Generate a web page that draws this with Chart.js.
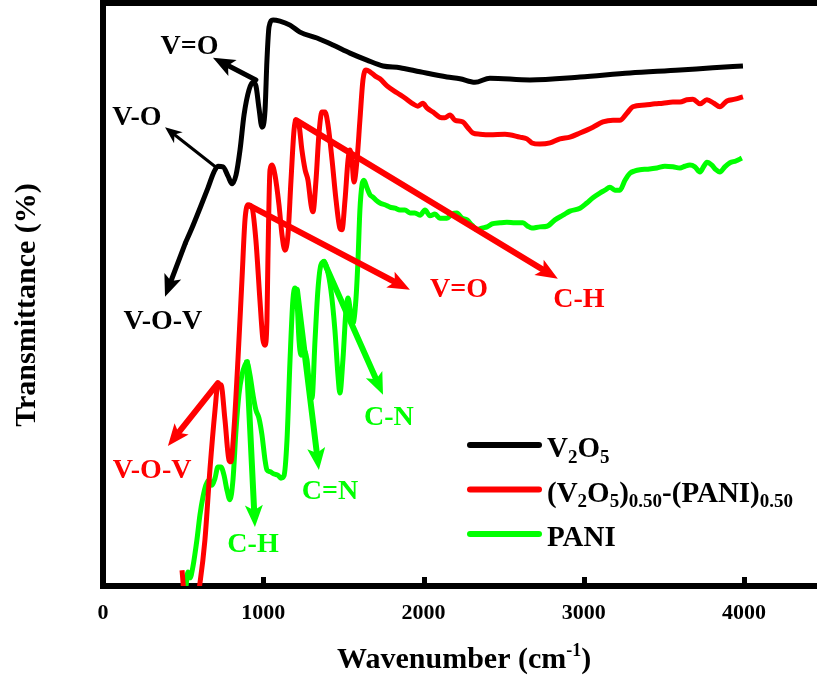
<!DOCTYPE html>
<html>
<head>
<meta charset="utf-8">
<script src="https://cdn.jsdelivr.net/npm/chart.js@4.4.0/dist/chart.umd.min.js"></script>
<style>
  html, body { margin: 0; padding: 0; background: #fff; overflow: hidden; }
</style>
</head>
<body>
<canvas id="ftir" width="817" height="679"></canvas>
<script>
// V2O5
const v2o5Wn = [512, 555, 605, 655, 692, 717, 749, 780, 805, 830, 855, 880, 911, 936, 954, 973, 992, 1011, 1023, 1036, 1061, 1104, 1167, 1229, 1335, 1435, 1541, 1647, 1747, 1853, 1978, 2146, 2227, 2321, 2414, 2664, 2976, 3288, 3600, 3805, 3993];
const v2o5T = [58.7, 61.4, 64.8, 68.3, 71.0, 72.0, 71.9, 70.3, 69.0, 70.5, 74.8, 80.8, 85.1, 86.4, 85.8, 82.0, 78.7, 81.6, 90.2, 95.9, 97.1, 96.9, 96.2, 95.0, 94.0, 92.8, 91.4, 90.2, 89.2, 88.9, 88.2, 87.3, 87.0, 86.4, 87.1, 86.8, 87.3, 88.0, 88.5, 88.9, 89.2];

// (V2O5)0.50-(PANI)0.50
const compWn = [493, 512, 586, 605, 636, 667, 699, 717, 736, 761, 786, 798, 817, 842, 867, 886, 905, 929, 954, 979, 998, 1011, 1023, 1029, 1042, 1054, 1073, 1098, 1117, 1135, 1154, 1173, 1192, 1204, 1223, 1241, 1261, 1279, 1298, 1310, 1329, 1347, 1366, 1385, 1404, 1429, 1454, 1478, 1491, 1510, 1529, 1541, 1553, 1566, 1585, 1603, 1622, 1641, 1666, 1697, 1728, 1772, 1834, 1884, 1934, 1965, 1996, 2021, 2059, 2102, 2133, 2165, 2196, 2246, 2277, 2308, 2352, 2414, 2508, 2601, 2645, 2676, 2726, 2789, 2851, 2913, 2976, 3057, 3119, 3182, 3225, 3269, 3306, 3381, 3444, 3493, 3556, 3600, 3643, 3681, 3725, 3768, 3812, 3849, 3893, 3943, 3993];
const compT = [2.7, -2.4, -2.4, 0.5, 7.9, 19.9, 30.2, 34.5, 34.5, 28.5, 21.6, 21.3, 26.8, 38.8, 52.5, 62.8, 65.4, 65.0, 59.3, 49.1, 42.2, 41.3, 45.6, 55.9, 71.4, 72.2, 70.5, 65.4, 60.2, 57.6, 60.2, 69.6, 78.2, 79.9, 79.1, 74.8, 71.4, 69.6, 65.4, 64.2, 69.6, 77.4, 81.3, 81.3, 79.1, 73.1, 66.2, 61.4, 61.1, 66.2, 73.1, 74.8, 73.1, 69.3, 73.1, 79.9, 86.8, 88.5, 88.2, 87.5, 87.0, 85.8, 84.6, 83.7, 82.7, 82.3, 82.8, 82.0, 81.3, 80.4, 80.3, 80.8, 79.9, 79.6, 78.6, 77.7, 77.5, 77.4, 77.5, 77.0, 76.7, 76.0, 75.8, 76.0, 76.7, 77.0, 77.7, 78.7, 79.6, 79.9, 79.9, 81.1, 82.2, 82.5, 82.7, 82.8, 83.0, 83.0, 83.4, 83.5, 82.7, 83.4, 82.8, 82.2, 83.2, 83.5, 83.9];

// PANI
const paniWn = [518, 530, 543, 561, 586, 605, 624, 642, 661, 680, 699, 717, 736, 755, 773, 792, 811, 830, 848, 867, 886, 898, 917, 936, 954, 973, 992, 1011, 1023, 1042, 1067, 1092, 1110, 1129, 1148, 1167, 1185, 1198, 1210, 1223, 1235, 1254, 1273, 1291, 1304, 1323, 1341, 1360, 1379, 1397, 1422, 1447, 1466, 1478, 1497, 1516, 1529, 1547, 1560, 1578, 1591, 1603, 1616, 1628, 1647, 1666, 1684, 1703, 1728, 1759, 1790, 1822, 1853, 1884, 1915, 1946, 1978, 2009, 2040, 2071, 2102, 2146, 2177, 2208, 2240, 2271, 2302, 2333, 2364, 2396, 2427, 2477, 2520, 2570, 2620, 2651, 2676, 2726, 2770, 2820, 2870, 2913, 2976, 3019, 3057, 3100, 3132, 3163, 3194, 3225, 3257, 3288, 3319, 3350, 3400, 3456, 3506, 3556, 3600, 3631, 3662, 3693, 3725, 3749, 3768, 3799, 3824, 3849, 3880, 3912, 3949, 3986];
const paniT = [0, 2.4, 1.4, 3.3, 7.9, 12.2, 15.3, 17.3, 18.2, 17.3, 18.5, 20.4, 20.4, 19.0, 16.5, 14.8, 18.2, 26.8, 32.8, 36.2, 37.9, 38.4, 36.2, 32.8, 30.2, 28.8, 25.9, 21.6, 19.9, 19.6, 19.2, 19.0, 18.5, 18.9, 25.0, 38.8, 49.1, 51.1, 49.1, 42.2, 39.6, 40.5, 38.8, 33.6, 32.2, 42.2, 50.8, 55.1, 55.6, 54.5, 50.8, 43.9, 36.2, 33.1, 38.8, 47.3, 49.4, 46.5, 45.1, 49.1, 55.9, 64.5, 68.8, 69.6, 68.3, 67.1, 66.7, 66.2, 65.7, 65.4, 65.0, 64.8, 64.5, 64.5, 64.0, 64.0, 63.6, 64.5, 63.5, 63.8, 63.1, 63.1, 63.8, 64.0, 63.1, 62.8, 61.9, 61.1, 61.4, 61.6, 62.1, 62.3, 62.4, 62.3, 62.3, 61.7, 61.4, 61.6, 61.7, 62.8, 63.6, 64.3, 64.8, 65.7, 66.6, 67.4, 67.9, 68.4, 67.9, 67.9, 69.6, 70.8, 71.2, 71.4, 71.5, 71.7, 72.0, 71.9, 71.7, 72.0, 72.2, 71.9, 71.0, 72.0, 72.7, 72.2, 71.4, 71.0, 71.9, 72.6, 72.9, 73.4];

const seriesNames = ['V_{2}O_{5}', '(V_{2}O_{5})_{0.50}-(PANI)_{0.50}', 'PANI'];
const seriesColors = ['#000000', '#ff0000', '#00ff00'];
const xTicks = [0, 1000, 2000, 3000, 4000];
const xTitle = 'Wavenumber (cm^{-1})';
const yTitle = 'Transmittance (%)';

// band assignments: arrow from/to and label centre, in (wavenumber, T)
const bands = [
    { text: 'V=O',   color: '#000000', from: [954, 86.8],  to: [686, 90.6],  label: [540, 92.5], width: 5 },
    { text: 'V-O',   color: '#000000', from: [711, 71.7],  to: [387, 78.7],  label: [212, 80.3], width: 3 },
    { text: 'V-O-V', color: '#000000', from: [512, 58.7],  to: [387, 49.6],  label: [374, 45.3], width: 5 },
    { text: 'V=O',   color: '#ff0000', from: [917, 65.2],  to: [1915, 50.8], label: [2221, 50.8], width: 6 },
    { text: 'C-H',   color: '#ff0000', from: [1204, 79.9], to: [2838, 52.7], label: [2969, 49.1], width: 6 },
    { text: 'V-O-V', color: '#ff0000', from: [717, 34.8],  to: [405, 24.0],  label: [306, 19.7], width: 6 },
    { text: 'C-H',   color: '#00ff00', from: [898, 38.4],  to: [948, 10.1],  label: [936, 7.0],  width: 6 },
    { text: 'C=N',   color: '#00ff00', from: [1210, 50.8], to: [1347, 19.9], label: [1416, 16.1], width: 6 },
    { text: 'C-N',   color: '#00ff00', from: [1379, 55.6], to: [1747, 32.8], label: [1784, 28.8], width: 6 }
];

const FONT = '"Liberation Serif", "Times New Roman", serif';

// petit parseur pour indices / exposants : A_{2} , cm^{-1}
function parseRich(str) {
    const parts = [];
    const re = /([_^])\{([^}]*)\}/g;
    let last = 0, m;
    while ((m = re.exec(str)) !== null) {
        if (m.index > last) parts.push({ t: str.slice(last, m.index), k: 'n' });
        parts.push({ t: m[2], k: m[1] === '_' ? 'sub' : 'sup' });
        last = re.lastIndex;
    }
    if (last < str.length) parts.push({ t: str.slice(last), k: 'n' });
    return parts;
}

function richWidth(ctx, parts, size) {
    let w = 0;
    parts.forEach(p => {
        ctx.font = `bold ${p.k === 'n' ? size : Math.round(size * 0.66)}px ${FONT}`;
        w += ctx.measureText(p.t).width;
    });
    return w;
}

function drawRich(ctx, str, x, y, size, align) {
    const parts = parseRich(str);
    let cx = x;
    if (align === 'center') cx = x - richWidth(ctx, parts, size) / 2;
    ctx.textBaseline = 'alphabetic';
    ctx.textAlign = 'left';
    parts.forEach(p => {
        let fs = size, dy = 0;
        if (p.k === 'sub') { fs = Math.round(size * 0.66); dy = size * 0.2; }
        if (p.k === 'sup') { fs = Math.round(size * 0.6); dy = -size * 0.4; }
        ctx.font = `bold ${fs}px ${FONT}`;
        ctx.fillText(p.t, cx, y + dy);
        cx += ctx.measureText(p.t).width;
    });
}

function drawArrow(ctx, x1, y1, x2, y2, color, width) {
    const ang = Math.atan2(y2 - y1, x2 - x1);
    const head = width >= 5 ? 22 : 17;
    const half = width >= 5 ? 9 : 7;
    const bx = x2 - head * Math.cos(ang);
    const by = y2 - head * Math.sin(ang);
    ctx.strokeStyle = color;
    ctx.fillStyle = color;
    ctx.lineWidth = width;
    ctx.lineCap = 'round';
    ctx.beginPath();
    ctx.moveTo(x1, y1);
    ctx.lineTo(bx + 4 * Math.cos(ang), by + 4 * Math.sin(ang));
    ctx.stroke();
    ctx.beginPath();
    ctx.moveTo(x2, y2);
    ctx.lineTo(bx + half * Math.sin(ang), by - half * Math.cos(ang));
    ctx.lineTo(bx + 5 * Math.cos(ang), by + 5 * Math.sin(ang));
    ctx.lineTo(bx - half * Math.sin(ang), by + half * Math.cos(ang));
    ctx.closePath();
    ctx.fill();
}

const decorPlugin = {
    id: 'decor',
    afterDraw(chart) {
        const ctx = chart.ctx;
        const xs = chart.scales.x, ys = chart.scales.y;
        const area = chart.chartArea;
        ctx.save();

        // cadre du haut
        ctx.fillStyle = '#000';
        ctx.fillRect(area.left - 3, 0, chart.width - area.left + 3, 6);

        // graduations vers l'intérieur
        xTicks.forEach(v => {
            if (v === 0) return;
            const px = xs.getPixelForValue(v);
            ctx.fillRect(Math.round(px) - 2, area.bottom - 9, 5, 9);
        });

        // flèches et attributions des bandes
        bands.forEach(b => {
            drawArrow(ctx,
                xs.getPixelForValue(b.from[0]), ys.getPixelForValue(b.from[1]),
                xs.getPixelForValue(b.to[0]), ys.getPixelForValue(b.to[1]),
                b.color, b.width);
            ctx.fillStyle = b.color;
            ctx.font = `bold 28px ${FONT}`;
            ctx.textAlign = 'center';
            ctx.textBaseline = 'middle';
            ctx.fillText(b.text, xs.getPixelForValue(b.label[0]), ys.getPixelForValue(b.label[1]));
        });

        // légende
        seriesNames.forEach((name, i) => {
            const ly = 445 + i * 44.5;
            ctx.strokeStyle = seriesColors[i];
            ctx.lineWidth = 6;
            ctx.lineCap = 'round';
            ctx.beginPath();
            ctx.moveTo(470, ly);
            ctx.lineTo(539, ly);
            ctx.stroke();
            ctx.fillStyle = '#000';
            drawRich(ctx, name, 547, ly + 12, 29, 'left');
        });

        // titres des axes
        ctx.fillStyle = '#000';
        drawRich(ctx, xTitle, 465, 668, 30, 'center');
        ctx.translate(27, 305);
        ctx.rotate(-Math.PI / 2);
        ctx.font = `bold 30px ${FONT}`;
        ctx.textAlign = 'center';
        ctx.textBaseline = 'middle';
        ctx.fillText(yTitle, 0, 0);
        ctx.restore();
    }
};

const mkSet = (wn, t, i) => ({
    label: seriesNames[i],
    data: wn.map((w, k) => ({ x: w, y: t[k] })),
    borderColor: seriesColors[i],
    borderWidth: 5,
    pointRadius: 0,
    cubicInterpolationMode: 'monotone',
    fill: false
});

new Chart(document.getElementById('ftir'), {
    type: 'line',
    data: {
        datasets: [
            mkSet(v2o5Wn, v2o5T, 0),
            mkSet(compWn, compT, 1),
            mkSet(paniWn, paniT, 2)
        ]
    },
    options: {
        responsive: false,
        animation: false,
        devicePixelRatio: 1,
        layout: { padding: { top: 3, right: 0, bottom: 0, left: 0 } },
        plugins: {
            legend: { display: false },
            tooltip: { enabled: false }
        },
        scales: {
            x: {
                type: 'linear',
                min: 0,
                max: 4455,
                grid: { display: false, drawTicks: false },
                border: { display: true, color: '#000', width: 6 },
                ticks: {
                    stepSize: 1000,
                    includeBounds: false,
                    color: '#000',
                    padding: 14,
                    maxRotation: 0,
                    font: { family: FONT, size: 22, weight: 'bold' },
                    callback: v => String(v)
                },
                afterBuildTicks: s => { s.ticks = xTicks.map(v => ({ value: v })); },
                afterFit: s => { s.height = 93; }
            },
            y: {
                min: 0,
                max: 100,
                grid: { display: false, drawTicks: false },
                border: { display: true, color: '#000', width: 6 },
                ticks: { display: false },
                afterFit: s => { s.width = 103; }
            }
        }
    },
    plugins: [decorPlugin]
});
</script>
</body>
</html>
